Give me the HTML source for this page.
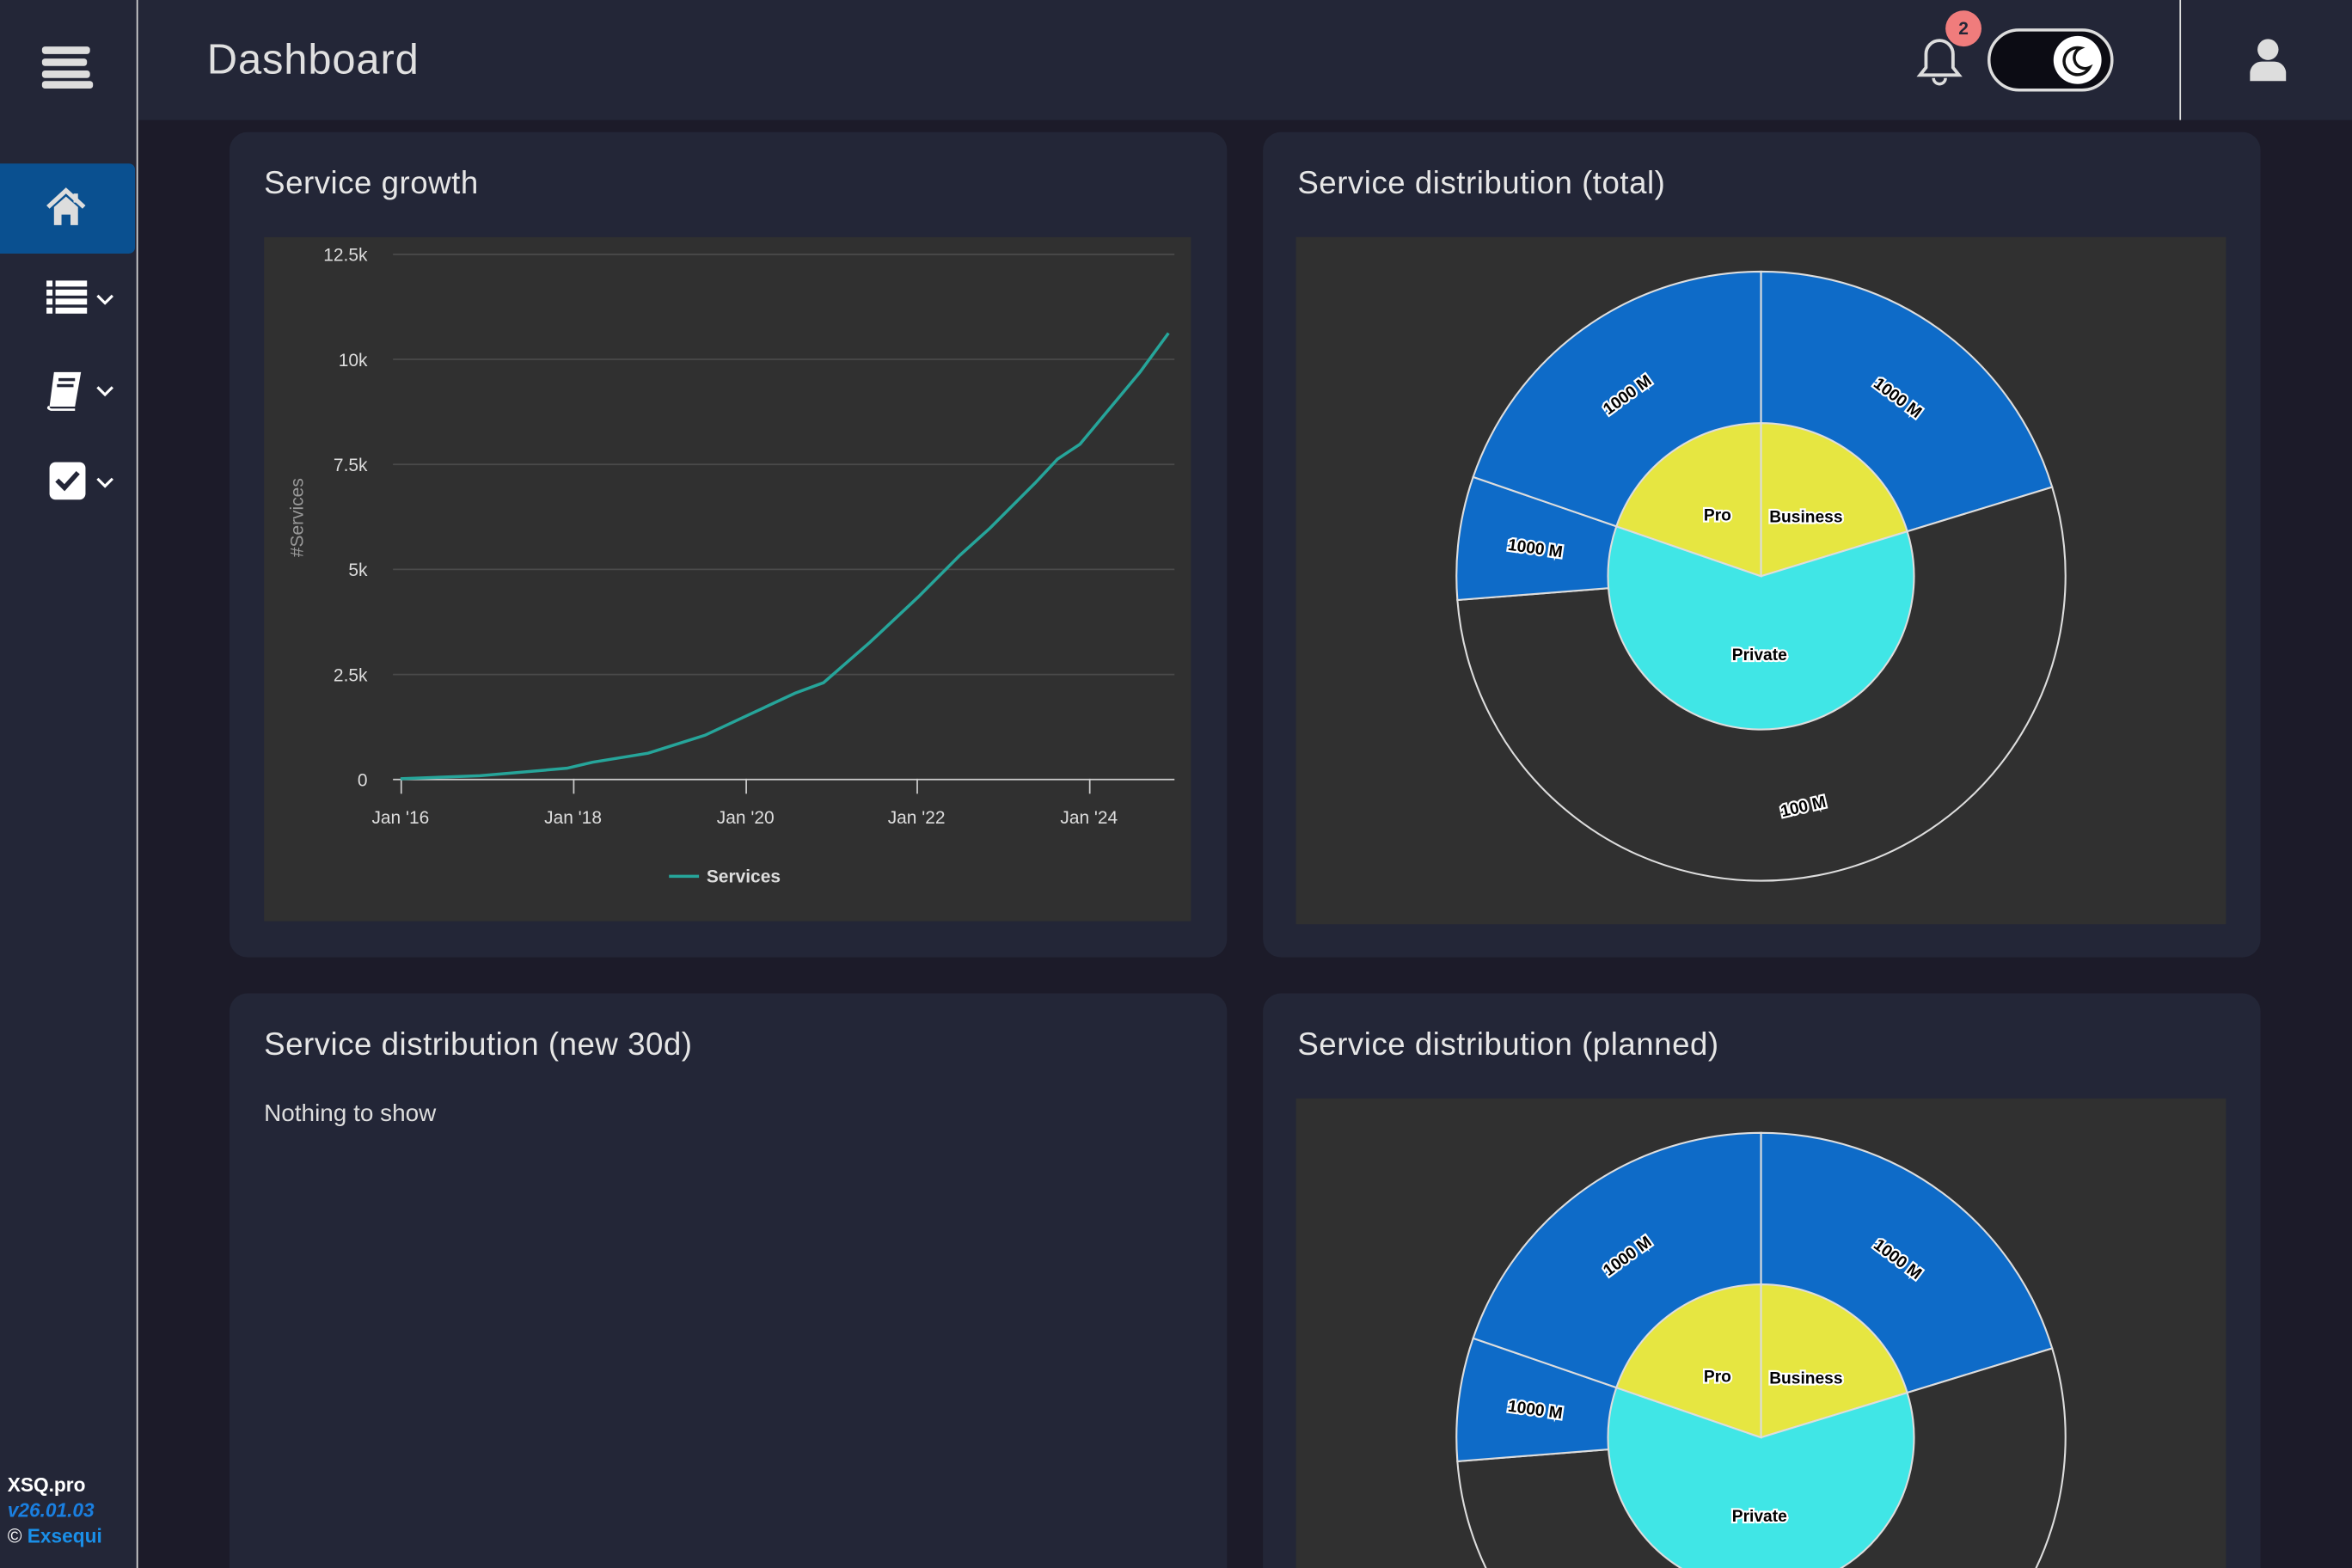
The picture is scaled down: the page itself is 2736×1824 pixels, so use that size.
<!DOCTYPE html>
<html><head><meta charset="utf-8">
<style>
html,body{margin:0;padding:0;width:2736px;height:1824px;overflow:hidden;background:#1c1b29;}
#w{position:absolute;left:0;top:0;width:1568px;height:1045px;overflow:hidden;transform:scale(1.744898,1.745455);transform-origin:0 0;background:#1c1b29;font-family:"Liberation Sans",sans-serif;color:#e0e0e0;}
.abs{position:absolute;}
.card{position:absolute;background:#232637;border-radius:12px;}
.card h2{position:absolute;left:23px;top:23px;margin:0;font-size:21px;font-weight:normal;color:#e6e6e6;letter-spacing:0.3px;}
</style></head><body>
<div id="w">
  <div class="abs" style="left:0;top:0;width:91px;height:1045px;background:#232637;"></div>
  <div class="abs" style="left:91px;top:0;width:1px;height:1045px;background:#d8d8d8;"></div>
  <div class="abs" style="left:28px;top:31px;width:32px;height:5px;background:#ddd;border-radius:2px;"></div>
  <div class="abs" style="left:28px;top:39px;width:30px;height:5px;background:#ddd;border-radius:2px;"></div>
  <div class="abs" style="left:28px;top:47px;width:32px;height:5px;background:#ddd;border-radius:2px;"></div>
  <div class="abs" style="left:28px;top:54px;width:34px;height:5px;background:#ddd;border-radius:2px;"></div>
  <div class="abs" style="left:0;top:109px;width:90px;height:60px;background:#0a5090;border-radius:0 4px 4px 0;"></div>
  <svg class="abs" style="left:30px;top:124px" width="28" height="28" viewBox="0 0 28 28">
    <path d="M2 14 L14 3 L26 14" stroke="#ddd" stroke-width="3" fill="none"/>
    <path d="M6 14 L14 7 L22 14 V26 H17 V19 H11 V26 H6Z" fill="#ddd"/>
    <rect x="19" y="5" width="3" height="6" fill="#ddd"/>
  </svg>
  <svg class="abs" style="left:30px;top:186px" width="50" height="26" viewBox="0 0 50 26">
    <g fill="#fff"><rect x="1" y="1" width="4" height="4"/><rect x="7" y="1" width="21" height="4"/>
    <rect x="1" y="7" width="4" height="4"/><rect x="7" y="7" width="21" height="4"/>
    <rect x="1" y="13" width="4" height="4"/><rect x="7" y="13" width="21" height="4"/>
    <rect x="1" y="19" width="4" height="4"/><rect x="7" y="19" width="21" height="4"/></g>
    <path d="M35 11 L40 16 L45 11" stroke="#fff" stroke-width="1.8" fill="none"/>
  </svg>
  <svg class="abs" style="left:30px;top:245px" width="50" height="30" viewBox="0 0 50 30">
    <path d="M6 3 H24 L20 26 H3 Z" fill="#fff"/><path d="M3 26 Q1 27 4 28 H20" stroke="#fff" stroke-width="1.5" fill="none"/>
    <rect x="9" y="7" width="11" height="2" fill="#232637"/><rect x="8" y="11" width="11" height="2" fill="#232637"/>
    <path d="M35 13 L40 18 L45 13" stroke="#fff" stroke-width="1.8" fill="none"/>
  </svg>
  <svg class="abs" style="left:32px;top:307px" width="48" height="28" viewBox="0 0 48 28">
    <rect x="1" y="1" width="24" height="25" rx="4" fill="#fff"/>
    <path d="M6 13 L11 18 L20 8" stroke="#232637" stroke-width="3.2" fill="none"/>
    <path d="M33 12 L38 17 L43 12" stroke="#fff" stroke-width="1.8" fill="none"/>
  </svg>
  <div class="abs" style="left:5px;top:981px;font-size:13px;color:#fff;font-weight:bold;line-height:17px;">XSQ.pro<br><span style="color:#1a7fe0;font-style:italic;">v26.01.03</span><br><span style="font-weight:normal">©</span> <span style="color:#1a8fe8">Exsequi</span></div>

  <div class="abs" style="left:92px;top:0;width:1476px;height:80px;background:#232637;"></div>
  <div class="abs" style="left:138px;top:24px;font-size:28px;color:#e0e0e0;letter-spacing:0.5px;">Dashboard</div>
  <svg class="abs" style="left:1274px;top:20px" width="40" height="38" viewBox="0 0 40 38">
    <path d="M6 30 H32 L28 25 V16 A9 9 0 0 0 10 16 V25 Z" stroke="#ddd" stroke-width="2.2" fill="none"/>
    <path d="M15 32 A4 4 0 0 0 23 32" stroke="#ddd" stroke-width="2" fill="none"/>
  </svg>
  <div class="abs" style="left:1297px;top:7px;width:24px;height:24px;border-radius:12px;background:#f07c7c;color:#232637;font-size:12px;font-weight:bold;text-align:center;line-height:24px;">2</div>
  <div class="abs" style="left:1325px;top:19px;width:80px;height:38px;border:2px solid #ddd;border-radius:21px;background:#0c0c14;"></div>
  <div class="abs" style="left:1369px;top:24px;width:32px;height:32px;border-radius:16px;background:#fff;"></div>
  <svg class="abs" style="left:1372px;top:27px" width="26" height="26" viewBox="0 0 26 26"><path d="M15 5 A9 9 0 1 0 21 18 A7 7 0 0 1 15 5Z" stroke="#111" stroke-width="2" fill="none"/></svg>
  <div class="abs" style="left:1453px;top:0;width:1px;height:80px;background:#ddd;"></div>
  <svg class="abs" style="left:1498px;top:24px" width="28" height="32" viewBox="0 0 28 32"><circle cx="14" cy="9" r="7" fill="#ddd"/><path d="M2 30 V24 A8 8 0 0 1 10 17 H18 A8 8 0 0 1 26 24 V30Z" fill="#ddd"/></svg>

  <div class="card" style="left:153px;top:88px;width:665px;height:550px;">
    <h2>Service growth</h2>
  </div>
  <svg class="abs" style="left:176px;top:158px" width="618" height="456" viewBox="176 158 618 456">
    <rect x="176" y="158" width="618" height="456" fill="#303030"/>
    <g stroke="#4a4a4a" stroke-width="1">
      <line x1="262" x2="783" y1="169.5" y2="169.5"/><line x1="262" x2="783" y1="239.5" y2="239.5"/>
      <line x1="262" x2="783" y1="309.5" y2="309.5"/><line x1="262" x2="783" y1="379.5" y2="379.5"/>
      <line x1="262" x2="783" y1="449.5" y2="449.5"/>
    </g>
    <line x1="262" x2="783" y1="519.5" y2="519.5" stroke="#ccc"/>
    <g stroke="#ccc"><line x1="267.5" x2="267.5" y1="519" y2="529"/><line x1="382.5" x2="382.5" y1="519" y2="529"/><line x1="497.5" x2="497.5" y1="519" y2="529"/><line x1="611.5" x2="611.5" y1="519" y2="529"/><line x1="726.5" x2="726.5" y1="519" y2="529"/></g>
    <g font-family="Liberation Sans,sans-serif" font-size="12" fill="#ddd" text-anchor="end">
      <text x="245" y="174">12.5k</text><text x="245" y="244">10k</text><text x="245" y="314">7.5k</text>
      <text x="245" y="384">5k</text><text x="245" y="454">2.5k</text><text x="245" y="524">0</text>
    </g>
    <g font-family="Liberation Sans,sans-serif" font-size="12" fill="#ddd" text-anchor="middle">
      <text x="267" y="549">Jan '16</text><text x="382" y="549">Jan '18</text><text x="497" y="549">Jan '20</text><text x="611" y="549">Jan '22</text><text x="726" y="549">Jan '24</text>
    </g>
    <text x="0" y="0" transform="translate(202,345) rotate(-90)" font-family="Liberation Sans,sans-serif" font-size="12" fill="#999" text-anchor="middle">#Services</text>
    <polyline fill="none" stroke="#26a59a" stroke-width="2" points="267,519 320,517 378,512 395,508 432,502 470,490 500,476 530,462 549,455 580,428 612,398 640,370 660,352 690,322 705,306 720,296 740,272 760,248 779,222"/>
    <line x1="446" x2="466" y1="584" y2="584" stroke="#26a59a" stroke-width="2"/>
    <text x="471" y="588" font-family="Liberation Sans,sans-serif" font-size="12" font-weight="bold" fill="#ddd">Services</text>
  </svg>

  <div class="card" style="left:842px;top:88px;width:665px;height:550px;">
    <h2>Service distribution (total)</h2>
  </div>
  <div class="card" style="left:153px;top:662px;width:665px;height:400px;">
    <h2>Service distribution (new 30d)</h2>
    <div class="abs" style="left:23px;top:72px;font-size:16px;color:#ddd;">Nothing to show</div>
  </div>
  <div class="card" style="left:842px;top:662px;width:665px;height:400px;">
    <h2>Service distribution (planned)</h2>
  </div>

  <svg class="abs" style="left:0;top:0" width="1568" height="1045" viewBox="0 0 1568 1045">
    <defs>
      <g id="sun">
        <rect x="-310" y="-226" width="620" height="458" fill="#303030"/>
        <path d="M0 0 L0 -203 A203 203 0 0 1 194.1 -59.4 Z" fill="#0e6bc8" stroke="#ddd" stroke-width="1.2"/>
        <path d="M0 0 L194.1 -59.4 A203 203 0 1 1 -202.4 15.9 Z" fill="#303030" stroke="#ddd" stroke-width="1.2"/>
        <path d="M0 0 L-202.4 15.9 A203 203 0 0 1 -191.9 -66.1 Z" fill="#0e6bc8" stroke="#ddd" stroke-width="1.2"/>
        <path d="M0 0 L-191.9 -66.1 A203 203 0 0 1 0 -203 Z" fill="#0e6bc8" stroke="#ddd" stroke-width="1.2"/>
        <path d="M0 0 L0 -102 A102 102 0 0 1 97.5 -29.8 Z" fill="#e6e641" stroke="#ddd" stroke-width="1.2"/>
        <path d="M0 0 L97.5 -29.8 A102 102 0 1 1 -96.4 -33.2 Z" fill="#40e6e6" stroke="#ddd" stroke-width="1.2"/>
        <path d="M0 0 L-96.4 -33.2 A102 102 0 0 1 0 -102 Z" fill="#e6e641" stroke="#ddd" stroke-width="1.2"/>
        <g font-family="Liberation Sans,sans-serif" font-size="11" font-weight="bold" fill="#000" stroke="#fff" stroke-width="2.5" paint-order="stroke" text-anchor="middle">
          <text x="-29" y="-37">Pro</text><text x="30" y="-36">Business</text><text x="-1" y="56">Private</text>
          <text transform="translate(-87,-118) rotate(-36)">1000 M</text>
          <text transform="translate(89,-116) rotate(37)">1000 M</text>
          <text transform="translate(-151,-15) rotate(8)">1000 M</text>
          <text transform="translate(29,157) rotate(-13)">100 M</text>
        </g>
      </g>
    </defs>
    <use href="#sun" x="1174" y="384"/>
    <svg x="864" y="732" width="620" height="313" overflow="hidden">
      <use href="#sun" x="310" y="226"/>
    </svg>
  </svg>
</div>
</body></html>
